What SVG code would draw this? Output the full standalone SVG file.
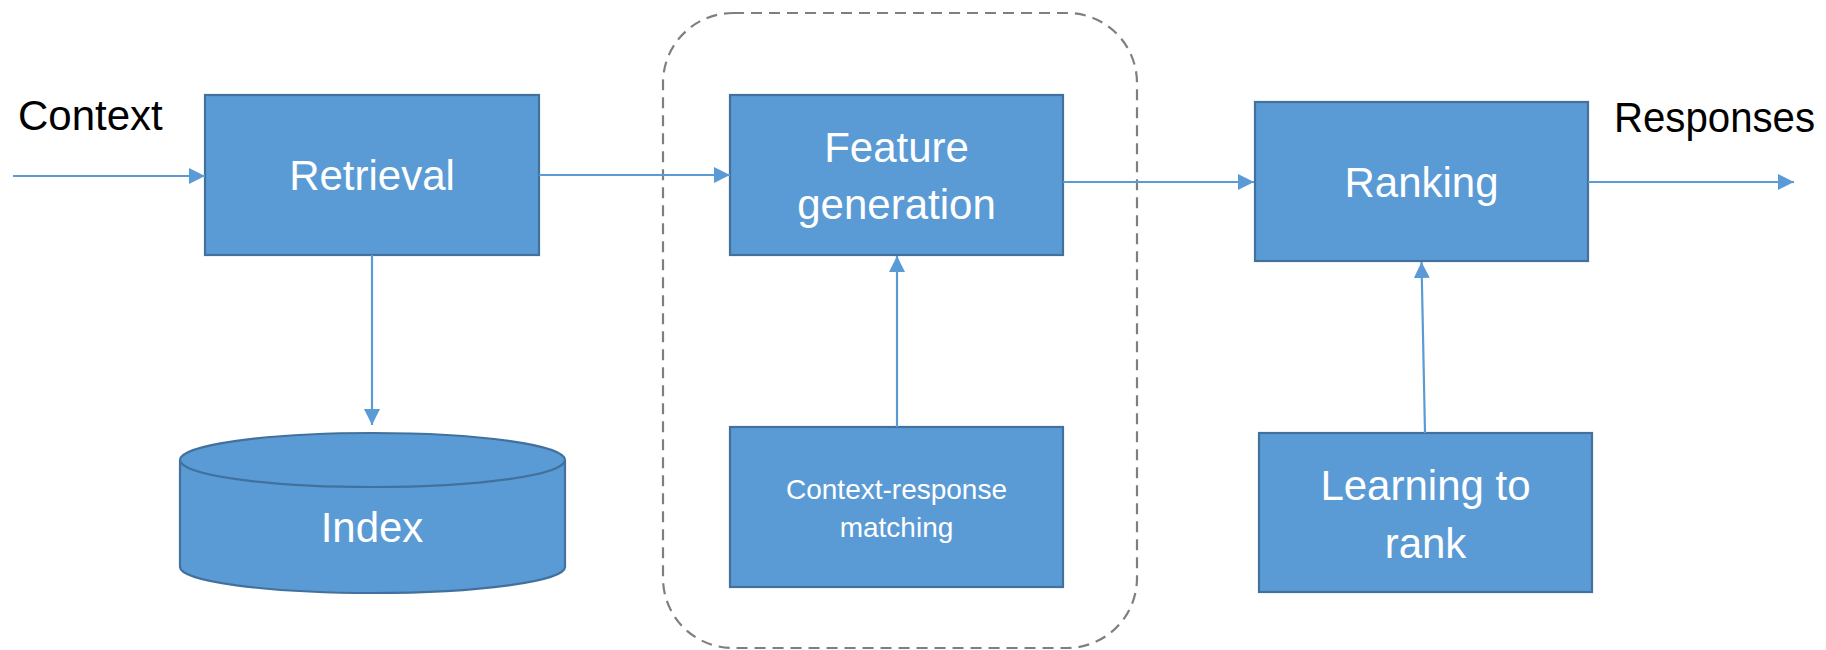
<svg xmlns="http://www.w3.org/2000/svg" width="1826" height="650" viewBox="0 0 1826 650">
<style>
.box{fill:#5B9BD5;stroke:#41719C;stroke-width:2.2}
.lbl{font-family:"Liberation Sans",Arial,sans-serif;font-size:42px;fill:#FFFFFF;text-anchor:middle}
.sm{font-size:28px}
.ext{font-family:"Liberation Sans",Arial,sans-serif;font-size:42px;fill:#000000}
.conn{stroke:#5B9BD5;stroke-width:2.2;fill:none;marker-end:url(#ah)}
.group{fill:none;stroke:#7F7F7F;stroke-width:2.2;stroke-dasharray:11 7}
</style>
<defs>
<marker id="ah" markerUnits="userSpaceOnUse" markerWidth="16" markerHeight="16" viewBox="0 0 16 16" refX="16" refY="8" orient="auto">
<path d="M0,0 L16,8 L0,16 Z" fill="#5B9BD5"/>
</marker>
</defs>
<rect width="1826" height="650" fill="#FFFFFF"/>
<g id="group-box">
<rect class="group" x="663" y="13" width="474" height="635" rx="70" ry="70"/>
</g>
<g id="label-context"><text class="ext" x="18" y="130">Context</text></g>
<g id="label-responses"><text class="ext" x="1614" y="132" textLength="201" lengthAdjust="spacingAndGlyphs">Responses</text></g>
<g id="node-retrieval">
<rect class="box" x="205" y="95" width="334" height="160"/>
<text class="lbl" x="372" y="190">Retrieval</text>
</g>
<g id="node-index">
<path class="box" d="M180,460 L180,567 A192.5,26 0 0 0 565,567 L565,460"/>
<ellipse class="box" cx="372.5" cy="460" rx="192.5" ry="27"/>
<text class="lbl" x="372" y="542">Index</text>
</g>
<g id="node-feature">
<rect class="box" x="730" y="95" width="333" height="160"/>
<text class="lbl" x="896.5" y="162">Feature</text>
<text class="lbl" x="896.5" y="219">generation</text>
</g>
<g id="node-matching">
<rect class="box" x="730" y="427" width="333" height="160"/>
<text class="lbl sm" x="896.5" y="499">Context-response</text>
<text class="lbl sm" x="896.5" y="537">matching</text>
</g>
<g id="node-ranking">
<rect class="box" x="1255" y="102" width="333" height="159"/>
<text class="lbl" x="1421.5" y="197">Ranking</text>
</g>
<g id="node-ltr">
<rect class="box" x="1259" y="433" width="333" height="159"/>
<text class="lbl" x="1425.5" y="500">Learning to</text>
<text class="lbl" x="1425.5" y="558">rank</text>
</g>
<g id="connectors">
<line class="conn" x1="13" y1="176" x2="205" y2="176"/>
<line class="conn" x1="539" y1="175" x2="730" y2="175"/>
<line class="conn" x1="372" y1="255" x2="372" y2="425"/>
<line class="conn" x1="897" y1="427" x2="897" y2="256"/>
<line class="conn" x1="1063" y1="182" x2="1254" y2="182"/>
<line class="conn" x1="1425" y1="433" x2="1421.5" y2="262"/>
<line class="conn" x1="1588" y1="182" x2="1794" y2="182"/>
</g>
</svg>
